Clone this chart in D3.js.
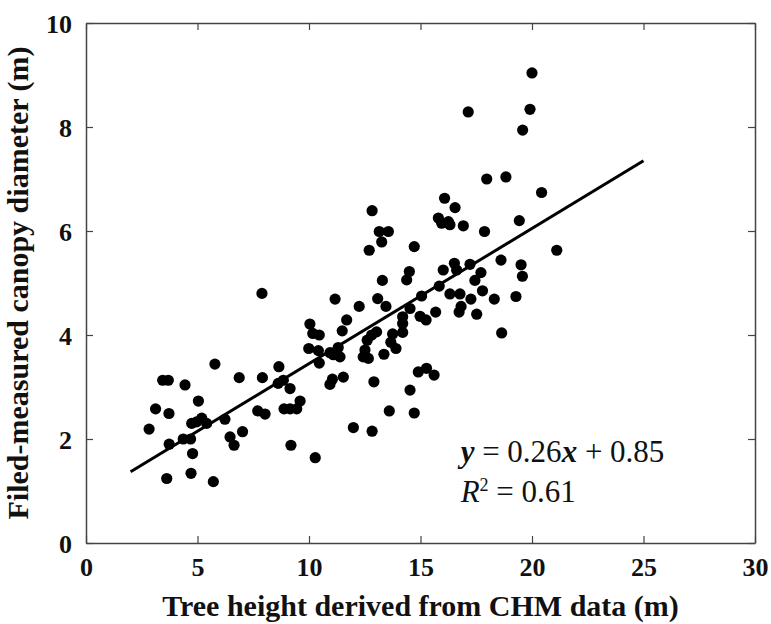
<!DOCTYPE html>
<html>
<head>
<meta charset="utf-8">
<script src="https://cdn.jsdelivr.net/npm/d3@7"></script>
<style>
  body { margin: 0; background: #fff; }
  .tick text { font-family: "Liberation Serif", "Times New Roman", serif; font-weight: bold; font-size: 26px; fill: #111; }
  .axis-label { font-family: "Liberation Serif", "Times New Roman", serif; font-weight: bold; font-size: 30px; fill: #111; }
  .eq { font-family: "Liberation Serif", "Times New Roman", serif; font-size: 31px; fill: #111; }
</style>
</head>
<body>
<div id="scatter"></div>
<script>
// setting up svg
var svgWidth = 771;
var svgHeight = 624;

// tree height from CHM (m)
var treeHeight = [
  2.83, 3.12, 3.44, 3.69, 3.72, 3.73, 3.62, 4.44, 4.36, 4.69,
  4.74, 4.96, 5.19, 5.41, 4.78, 4.71, 5.04, 5.71, 5.78, 6.23,
  6.46, 6.64, 7.02, 6.87, 7.91, 7.70, 8.03, 7.89, 8.65, 8.62,
  8.85, 9.15, 9.60, 8.88, 9.15, 9.45, 9.19, 10.28, 9.99, 10.42,
  10.46, 10.94, 11.31, 11.39, 11.09, 10.04, 10.17, 10.46, 11.69, 11.49,
  11.17, 10.94, 11.05, 11.54, 11.99, 12.83, 12.25, 12.61, 12.81, 12.51,
  12.43, 12.66, 13.03, 12.91, 13.36, 13.75, 13.67, 13.90, 13.60, 14.72,
  14.53, 14.90, 15.27, 15.61, 14.20, 14.20, 14.20, 14.53, 14.98, 15.25,
  15.68, 15.05, 13.08, 13.45, 13.29, 12.70, 12.83, 13.15, 13.56, 13.26,
  14.72, 14.50, 14.38, 15.84, 16.02, 16.52, 16.62, 17.22, 17.71, 17.44,
  18.61, 19.51, 19.57, 16.32, 16.77, 17.26, 17.78, 18.31, 19.28, 16.82,
  16.73, 17.52, 18.64, 15.80, 15.95, 16.25, 16.32, 16.92, 17.87, 19.43,
  16.08, 16.55, 17.97, 18.83, 20.43, 21.11, 17.14, 20.00, 19.91, 19.58
];

// field-measured canopy diameter (m)
var canopyDiameter = [
  2.19, 2.58, 3.13, 3.13, 2.49, 1.90, 1.24, 3.04, 2.00, 2.00,
  2.30, 2.33, 2.40, 2.30, 1.72, 1.34, 2.73, 1.18, 3.44, 2.38,
  2.04, 1.88, 2.14, 3.18, 3.18, 2.54, 2.48, 4.80, 3.39, 3.07,
  3.13, 2.97, 2.73, 2.58, 2.58, 2.58, 1.88, 1.64, 3.74, 3.70,
  3.46, 3.66, 3.76, 3.58, 3.62, 4.21, 4.03, 4.00, 4.29, 4.08,
  4.69, 3.05, 3.15, 3.19, 2.22, 2.15, 4.55, 3.90, 4.00, 3.71,
  3.58, 3.55, 4.06, 3.10, 3.63, 4.02, 3.86, 3.74, 2.54, 2.50,
  2.94, 3.29, 3.36, 3.23, 4.35, 4.22, 4.05, 4.51, 4.36, 4.29,
  4.44, 4.75, 4.70, 4.55, 5.05, 5.63, 6.39, 5.99, 5.99, 5.79,
  5.70, 5.22, 5.06, 4.94, 5.25, 5.38, 5.25, 5.36, 5.20, 5.05,
  5.44, 5.35, 5.13, 4.79, 4.79, 4.69, 4.85, 4.69, 4.74, 4.55,
  4.44, 4.40, 4.04, 6.25, 6.15, 6.18, 6.12, 6.10, 5.99, 6.20,
  6.63, 6.45, 7.00, 7.04, 6.74, 5.63, 8.29, 9.04, 8.34, 7.94
];

var xTicks = [0, 5, 10, 15, 20, 25, 30];
var yTicks = [0, 2, 4, 6, 8, 10];

// fitted line y = 0.26x + 0.85, drawn from x = 2 to x = 25
var fitSlope = 0.26;
var fitIntercept = 0.85;
var fitRange = [2, 25];

var bottomAxisLabel = "Tree height derived from CHM data (m)";
var leftAxisLabel = "Filed-measured canopy diameter (m)";

d3.select("#scatter")
  .append("svg")
    .attr("width", svgWidth)
    .attr("height", svgHeight);

var svg = d3.select("svg");

var renderData = data => {

    var margin = { top: 23, bottom: 81, left: 86, right: 16 };
    var width = svgWidth - margin.left - margin.right;
    var height = svgHeight - margin.top - margin.bottom;

    var xLinearScale = d3.scaleLinear().domain([0, 30]).range([0, width]);
    var yLinearScale = d3.scaleLinear().domain([0, 10]).range([height, 0]);

    var g = svg.append("g")
        .attr("transform", `translate(${margin.left}, ${margin.top})`);

    // inward ticks on all four sides, like matlab
    var bottomAxisG = g.append("g")
        .attr("transform", `translate(0,${height})`)
        .call(d3.axisBottom(xLinearScale).tickValues(xTicks).tickSizeInner(-7).tickSizeOuter(0).tickPadding(15));
    var topAxisG = g.append("g")
        .call(d3.axisTop(xLinearScale).tickValues(xTicks).tickSizeInner(-7).tickSizeOuter(0).tickFormat(""));
    var leftAxisG = g.append("g")
        .call(d3.axisLeft(yLinearScale).tickValues(yTicks).tickSizeInner(-7).tickSizeOuter(0).tickPadding(14));
    var rightAxisG = g.append("g")
        .attr("transform", `translate(${width},0)`)
        .call(d3.axisRight(yLinearScale).tickValues(yTicks).tickSizeInner(-7).tickSizeOuter(0).tickFormat(""));

    [bottomAxisG, topAxisG, leftAxisG, rightAxisG].forEach(a => {
        a.select(".domain").attr("stroke", "#444").attr("stroke-width", 1.5);
        a.selectAll(".tick line").attr("stroke", "#444").attr("stroke-width", 1.2);
    });

    bottomAxisG.selectAll(".tick text").attr("dy", "0.71em");
    leftAxisG.selectAll(".tick text").attr("dy", "0.35em");

    // axis titles
    g.append("text")
        .classed("axis-label", true)
        .attr("x", width / 2)
        .attr("y", height + 73)
        .attr("text-anchor", "middle")
        .text(bottomAxisLabel);

    g.append("text")
        .classed("axis-label", true)
        .attr("transform", "rotate(-90)")
        .attr("x", -height / 2)
        .attr("y", -58)
        .attr("text-anchor", "middle")
        .text(leftAxisLabel);

    // points
    g.selectAll("circle").data(data)
      .enter().append("circle")
        .attr("cx", d => xLinearScale(d.x))
        .attr("cy", d => yLinearScale(d.y))
        .attr("r", 5.6)
        .attr("fill", "#000");

    // regression line
    var line = d3.line()
        .x(d => xLinearScale(d))
        .y(d => yLinearScale(fitSlope * d + fitIntercept));
    g.append("path")
        .datum(fitRange)
        .attr("d", line)
        .attr("fill", "none")
        .attr("stroke", "#000")
        .attr("stroke-width", 3);

    // equation text
    var eq1 = g.append("text").classed("eq", true)
        .attr("x", xLinearScale(16.8))
        .attr("y", yLinearScale(1.56));
    eq1.append("tspan").attr("font-style", "italic").attr("font-weight", "bold").text("y");
    eq1.append("tspan").text(" = 0.26");
    eq1.append("tspan").attr("font-style", "italic").attr("font-weight", "bold").text("x");
    eq1.append("tspan").text(" + 0.85");

    var eq2 = g.append("text").classed("eq", true)
        .attr("x", xLinearScale(16.8))
        .attr("y", yLinearScale(0.79));
    eq2.append("tspan").attr("font-style", "italic").text("R");
    eq2.append("tspan").attr("font-size", "18px").attr("dy", "-11").text("2");
    eq2.append("tspan").attr("dy", "11").text(" = 0.61");
};

var points = treeHeight.map((h, i) => ({ x: h, y: canopyDiameter[i] }));
renderData(points);
</script>
</body>
</html>
